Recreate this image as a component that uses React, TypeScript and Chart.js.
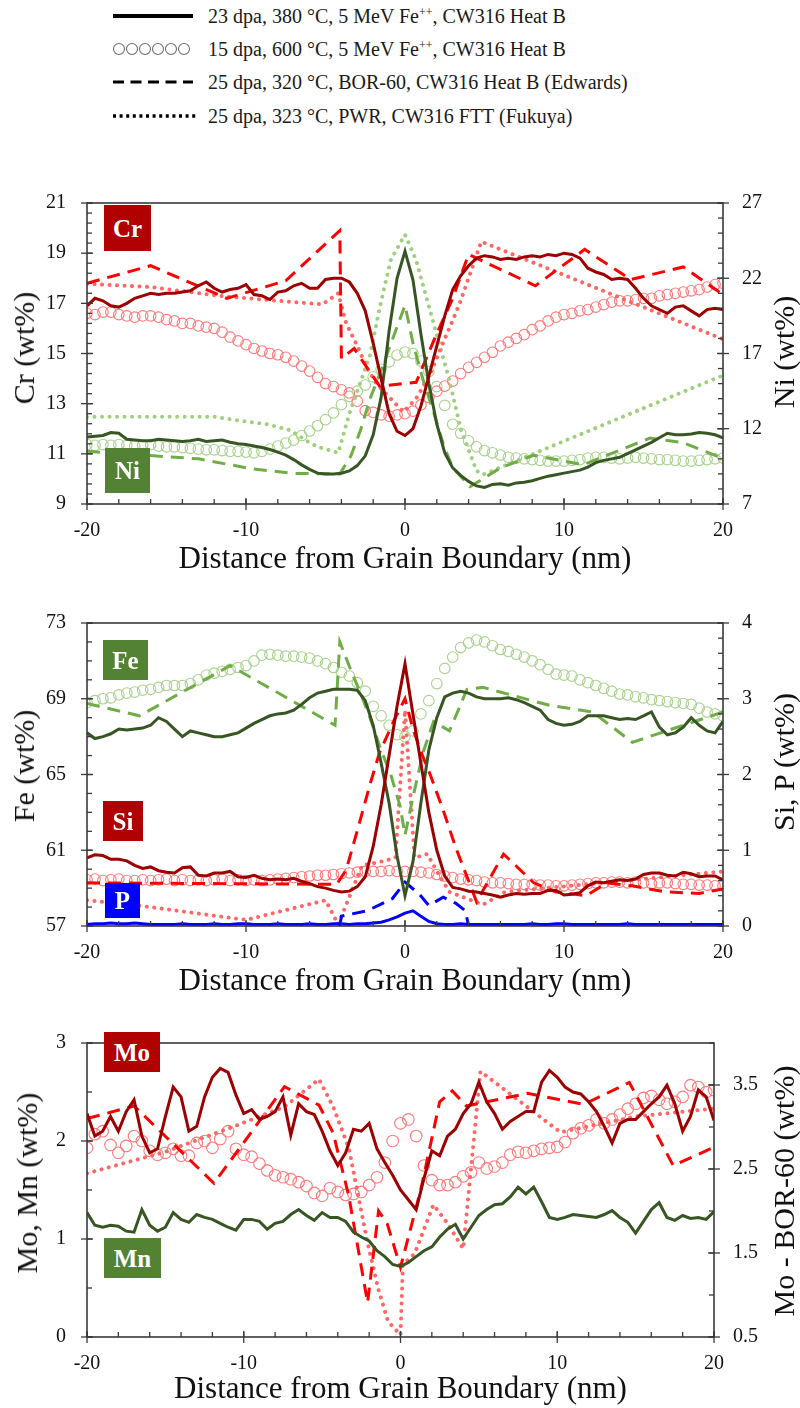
import React, { useEffect, useRef } from "react";
import { Chart, registerables } from "chart.js";
Chart.register(...registerables);

const FONT = "'Liberation Serif', 'Times New Roman', Times, serif";

// ---------- shared distance grid (nm) ----------
const DIST = [
  -20, -19.5, -19, -18.5, -18, -17.5, -17, -16.5, -16, -15.5,
  -15, -14.5, -14, -13.5, -13, -12.5, -12, -11.5, -11, -10.5,
  -10, -9.5, -9, -8.5, -8, -7.5, -7, -6.5, -6, -5.5,
  -5, -4.5, -4, -3.5, -3, -2.5, -2, -1.5, -1, -0.5,
  0,
  0.5, 1, 1.5, 2, 2.5, 3, 3.5, 4, 4.5, 5,
  5.5, 6, 6.5, 7, 7.5, 8, 8.5, 9, 9.5, 10,
  10.5, 11, 11.5, 12, 12.5, 13, 13.5, 14, 14.5, 15,
  15.5, 16, 16.5, 17, 17.5, 18, 18.5, 19, 19.5, 20,
];
const X_TICKS = [-20, -10, 0, 10, 20];

// ---------- panel 1 : Cr / Ni ----------
const CR_TICKS = [9, 11, 13, 15, 17, 19, 21];
const NI_TICKS = [7, 12, 17, 22, 27];
const CR_SOLID = [
  16.9, 17.2, 17.1, 16.9, 16.85, 17.0, 17.2, 17.3, 17.4, 17.35,
  17.4, 17.4, 17.45, 17.5, 17.7, 17.85, 17.6, 17.45, 17.55, 17.6,
  17.75, 17.35, 17.3, 17.15, 17.45, 17.5, 17.7, 17.8, 17.6, 17.6,
  17.95, 18.0, 18.0, 17.85, 17.4, 16.7, 15.4, 14.0, 12.6, 11.9,
  11.73,
  12.0, 12.9, 14.1, 15.3, 16.5, 17.55, 18.1, 18.5, 18.8, 18.9,
  18.85, 18.75, 18.8, 18.75, 18.85, 18.9, 18.85, 18.95, 18.9, 19.0,
  18.95, 18.8, 18.4, 18.25, 18.15, 17.95, 18.0, 17.95, 17.6, 17.2,
  16.9, 16.75, 16.6, 16.85, 16.9, 16.7, 16.5, 16.75, 16.8, 16.75,
];
const CR_CIRC = [
  16.6, 16.55, 16.65, 16.65, 16.55, 16.5, 16.45, 16.5, 16.5, 16.45,
  16.35, 16.3, 16.2, 16.2, 16.1, 16.05, 16.0, 15.85, 15.65, 15.5,
  15.35, 15.2, 15.1, 15.0, 14.95, 14.85, 14.7, 14.5, 14.3, 14.05,
  13.8, 13.68, 13.55, 13.43, 13.1, 12.72, 12.65, 12.55, 12.5, 12.55,
  12.6,
  12.7, 12.95, 13.25, 13.5, 13.7, 13.9, 14.2, 14.45, 14.65, 14.85,
  15.05, 15.3, 15.45, 15.6, 15.75, 15.95, 16.1, 16.3, 16.45, 16.55,
  16.6, 16.7, 16.75, 16.85, 16.95, 17.05, 17.1, 17.1, 17.15, 17.2,
  17.2, 17.3, 17.35, 17.4, 17.45, 17.5, 17.55, 17.65, 17.75, 17.8,
];
const CR_DASH_X = [-20, -16, -11.2, -7.5, -4.1, -4.0, -3.2, -1.6, 0.7, 2.0, 3.0, 4.0, 8.2, 11.3, 14.2, 17.5, 20];
const CR_DASH_Y = [17.8, 18.5, 17.2, 17.9, 19.9, 14.8, 15.2, 13.7, 13.85, 15.8, 17.2, 18.95, 17.7, 19.15, 17.95, 18.45, 17.35];
const CR_DOT_X = [-20, -16, -11.7, -8, -5.2, -4.2, -3.7, -3.0, -2.4, -1.8, -0.9, -0.1, 0.7, 1.6, 2.4, 3.0, 3.5, 4.8, 20];
const CR_DOT_Y = [17.78, 17.65, 17.3, 17.1, 16.96, 17.4, 16.2, 15.3, 14.43, 13.8, 13.2, 12.67, 13.2, 14.2, 15.44, 16.32, 17.1, 19.46, 15.57];

const NI_SOLID = [
  11.45, 11.5, 11.55, 11.75, 11.7, 11.3, 11.25, 11.2, 11.2, 11.3,
  11.25, 11.2, 11.15, 11.2, 11.3, 11.15, 11.2, 11.25, 11.1, 11.0,
  10.95, 10.85, 10.75, 10.62, 10.45, 10.25, 9.95, 9.6, 9.3, 9.05,
  9.0, 9.0, 9.05, 9.2, 9.55, 10.2, 11.6, 14.1, 18.5, 22.0,
  23.8,
  21.9, 18.3, 15.0, 12.3, 10.4, 9.4, 8.9, 8.5, 8.2, 8.1,
  8.3, 8.35, 8.25, 8.4, 8.45, 8.55, 8.7, 8.85, 8.95, 9.05,
  9.15, 9.25, 9.45, 9.75, 9.9, 10.0, 10.1, 10.35, 10.6, 10.85,
  11.1, 11.4, 11.7, 11.6, 11.6, 11.65, 11.75, 11.7, 11.6, 11.4,
];
const NI_CIRC = [
  10.95, 10.9, 10.95, 10.9, 10.95, 10.9, 10.85, 10.9, 10.95, 10.85,
  10.8, 10.8, 10.75, 10.7, 10.65, 10.6, 10.6, 10.55, 10.5, 10.5,
  10.45, 10.4, 10.5, 10.65, 10.85, 11.05, 11.25, 11.55, 11.85, 12.2,
  12.6, 13.05, 13.6, 14.15, 14.5, 14.9, 15.45, 15.95, 16.45, 16.9,
  17.1,
  17.0, 16.5, 15.8, 14.8, 13.55, 12.3, 11.7, 11.2, 10.8, 10.55,
  10.4, 10.25, 10.1, 10.05, 10.0, 9.95, 9.9, 9.85, 9.85, 9.85,
  9.9, 9.95, 10.05, 10.1, 10.1, 10.05, 10.0, 10.05, 10.1, 10.05,
  10.0, 9.95, 9.95, 9.9, 9.85, 9.85, 9.9, 9.95, 10.0, 10.05,
];
const NI_DASH_X = [-20, -13, -9.7, -7, -4.1, -3.4, -2.8, -2.2, -1.6, 0, 0.5, 1.15, 1.8, 2.4, 3.0, 4.1, 6.0, 8.1, 11.2, 15.4, 17.5, 20];
const NI_DASH_Y = [10.5, 10.0, 9.35, 9.03, 9.0, 10.2, 11.9, 14.0, 15.6, 20.2, 17.7, 15.2, 13.1, 11.0, 9.4, 8.15, 9.4, 10.24, 9.6, 11.38, 11.07, 10.03];
const NI_DOT_X = [-20, -12, -10.8, -8.7, -7.2, -6.2, -5.5, -4.2, -3.5, -2.2, -1.6, -0.9, 0, 0.7, 1.8, 2.8, 3.5, 4.5, 4.9, 20];
const NI_DOT_Y = [12.8, 12.8, 12.6, 12.3, 11.9, 11.2, 10.8, 10.4, 13.0, 16.9, 20.0, 23.2, 24.9, 23.2, 19.0, 15.2, 12.0, 9.2, 8.95, 15.55];

// ---------- panel 2 : Fe / Si, P ----------
const FE_TICKS = [57, 61, 65, 69, 73];
const SIP_TICKS = [0, 1, 2, 3, 4];
const FE_SOLID = [
  67.2, 66.9, 67.0, 67.15, 67.4, 67.35, 67.4, 67.45, 67.6, 68.0,
  67.8, 67.4, 67.0, 67.3, 67.2, 67.1, 67.0, 67.0, 67.1, 67.2,
  67.45, 67.7, 67.9, 68.1, 68.2, 68.25, 68.4, 68.7, 69.05, 69.3,
  69.4, 69.5, 69.5, 69.5, 69.45, 68.9, 67.6, 65.6, 63.5, 60.7,
  58.6,
  60.4, 63.5, 66.3, 68.0, 69.1, 69.3, 69.4, 69.3, 69.1, 69.0,
  69.0, 69.0, 69.05, 68.95, 68.8, 68.6, 68.4, 67.9, 67.7, 67.6,
  67.65, 67.8, 68.1, 68.1, 68.1, 68.0, 67.9, 67.95, 67.9, 68.1,
  68.3, 67.5, 67.1, 67.2, 67.5, 68.0, 67.6, 67.3, 67.2, 67.8,
];
const FE_CIRC = [
  68.8, 68.9, 69.0, 69.05, 69.2, 69.3, 69.35, 69.45, 69.5, 69.6,
  69.7, 69.7, 69.7, 69.8, 70.0, 70.25, 70.35, 70.45, 70.55, 70.65,
  70.75, 71.0, 71.3, 71.35, 71.3, 71.25, 71.25, 71.2, 71.15, 71.0,
  70.85, 70.65, 70.4, 70.2, 69.85, 69.4, 68.6, 68.1, 67.6, 67.1,
  67.0,
  67.3, 68.2, 68.9, 69.8, 70.6, 71.2, 71.7, 71.95, 72.1, 72.0,
  71.8, 71.6, 71.5, 71.35, 71.2, 71.0, 70.8, 70.55, 70.3, 70.25,
  70.2, 70.0, 69.85, 69.7, 69.55, 69.4, 69.25, 69.2, 69.1, 69.05,
  68.95, 68.9, 68.85, 68.8, 68.75, 68.7, 68.5, 68.3, 68.2, 68.1,
];
const FE_DASH_X = [-20, -16.7, -11, -4.4, -4.1, -3.4, -2.8, -2.2, -1.6, -0.9, -0.3, 0, 0.5, 1.15, 1.8, 2.8, 3.9, 4.9, 9.1, 11.8, 14.3, 20];
const FE_DASH_Y = [68.75, 68.1, 70.75, 67.6, 72.0, 70.5, 69.3, 68.0, 66.5, 65.0, 63.3, 61.8, 63.8, 66.2, 67.8, 67.3, 69.5, 69.6, 68.65, 68.3, 66.7, 68.3];

const SI_SOLID = [
  0.9, 0.94, 0.93, 0.88, 0.88, 0.86, 0.8, 0.76, 0.78, 0.73,
  0.71, 0.7, 0.77, 0.78, 0.67, 0.66, 0.7, 0.7, 0.72, 0.65,
  0.64, 0.67, 0.63, 0.61, 0.62, 0.61, 0.63, 0.59, 0.56, 0.52,
  0.5, 0.47, 0.45, 0.46, 0.52, 0.65, 1.05, 1.6, 2.25, 2.9,
  3.46,
  2.8, 2.15, 1.5, 1.0, 0.66, 0.51, 0.49, 0.46, 0.45, 0.43,
  0.41, 0.38, 0.41, 0.43, 0.42, 0.43, 0.43, 0.47, 0.47, 0.41,
  0.42, 0.44, 0.53, 0.58, 0.57, 0.59, 0.61, 0.6, 0.62, 0.68,
  0.7, 0.7, 0.67, 0.66, 0.71, 0.69, 0.65, 0.66, 0.66, 0.61,
];
const SI_CIRC = [
  0.61, 0.62, 0.6, 0.61, 0.62, 0.6, 0.6, 0.61, 0.6, 0.61,
  0.62, 0.6, 0.61, 0.6, 0.61, 0.6, 0.61, 0.62, 0.6, 0.61,
  0.6, 0.61, 0.6, 0.61, 0.62, 0.63, 0.64, 0.65, 0.66, 0.67,
  0.67, 0.68, 0.69, 0.7, 0.71, 0.72, 0.72, 0.72, 0.73, 0.72,
  0.72,
  0.72, 0.71, 0.7, 0.68, 0.66, 0.64, 0.62, 0.61, 0.6, 0.58,
  0.57, 0.57, 0.56, 0.55, 0.55, 0.55, 0.54, 0.54, 0.53, 0.53,
  0.54, 0.55, 0.56, 0.57, 0.57, 0.58, 0.58, 0.57, 0.58, 0.57,
  0.56, 0.57, 0.57, 0.56, 0.55, 0.55, 0.54, 0.54, 0.53, 0.53,
];
const SI_DASH_X = [-20, -4.3, -3.7, -2.8, -2.2, -1.6, -0.7, 0, 0.5, 1.0, 1.6, 2.4, 3.2, 3.9, 4.5, 6.2, 8.1, 9.5, 11.4, 12.7, 14.3, 16.4, 18.5, 20];
const SI_DASH_Y = [0.57, 0.55, 0.74, 1.41, 1.87, 2.29, 2.71, 3.0, 2.6, 2.3, 1.99, 1.53, 1.03, 0.65, 0.32, 0.95, 0.57, 0.45, 0.4, 0.57, 0.53, 0.45, 0.43, 0.49];
const SI_DOT_X = [-20, -16.4, -10, -5, -4.2, -2.7, -1.5, -0.6, 0, 0.6, 1.4, 2.2, 2.8, 4.9, 6.3, 20];
const SI_DOT_Y = [0.34, 0.26, 0.08, 0.34, 0.02, 0.8, 0.85, 0.9, 2.85, 0.9, 0.95, 0.65, 0.45, 0.28, 0.45, 0.72];

const P_SOLID = [
  0.02, 0.03, 0.03, 0.04, 0.03, 0.03, 0.04, 0.03, 0.02, 0.02,
  0.02, 0.02, 0.03, 0.02, 0.02, 0.02, 0.03, 0.02, 0.02, 0.03,
  0.03, 0.02, 0.02, 0.02, 0.03, 0.02, 0.02, 0.02, 0.03, 0.02,
  0.02, 0.03, 0.03, 0.02, 0.03, 0.03, 0.04, 0.05, 0.08, 0.12,
  0.17,
  0.2, 0.13, 0.06, 0.03, 0.02, 0.02, 0.03, 0.02, 0.02, 0.02,
  0.02, 0.02, 0.02, 0.02, 0.02, 0.03, 0.02, 0.02, 0.03, 0.03,
  0.02, 0.02, 0.02, 0.02, 0.02, 0.02, 0.02, 0.03, 0.02, 0.02,
  0.02, 0.02, 0.02, 0.02, 0.02, 0.02, 0.02, 0.02, 0.02, 0.02,
];
const P_DASH_X = [-4.1, -4.0, -2.4, -1.6, -0.8, 0, 0.9, 1.5, 2.4, 3.2, 3.8, 4.0];
const P_DASH_Y = [0.0, 0.13, 0.2, 0.28, 0.36, 0.58, 0.42, 0.27, 0.38, 0.3, 0.2, 0.0];

// ---------- panel 3 : Mo / Mn ----------
const MOMN_TICKS = [0, 1, 2, 3];
const MOB_TICKS = [0.5, 1.5, 2.5, 3.5];
const MO_SOLID = [
  2.28, 2.05, 2.1, 2.25, 2.1, 2.3, 2.42, 2.05, 1.88, 1.92,
  2.25, 2.55, 2.45, 2.1, 2.15, 2.45, 2.65, 2.74, 2.7, 2.47,
  2.28, 2.32, 2.22, 2.25, 2.3, 2.45, 2.06, 2.38, 2.3, 2.27,
  2.1, 1.9, 1.75, 1.88, 2.12, 2.1, 2.18, 1.92, 1.78, 1.65,
  1.5,
  1.4, 1.3, 1.62, 1.9, 1.85, 2.05, 2.12, 2.28, 2.38, 2.6,
  2.4, 2.28, 2.12, 2.2, 2.25, 2.3, 2.3, 2.6, 2.72, 2.65,
  2.55, 2.5, 2.48, 2.4, 2.3, 2.15, 1.98, 2.18, 2.22, 2.22,
  2.3, 2.38, 2.45, 2.57, 2.38, 2.1, 2.25, 2.52, 2.45, 2.21,
];
const MN_SOLID = [
  1.27, 1.14, 1.12, 1.14, 1.13, 1.08, 1.07, 1.3, 1.14, 1.08,
  1.12, 1.27, 1.2, 1.17, 1.25, 1.22, 1.2, 1.16, 1.12, 1.09,
  1.2, 1.2, 1.18, 1.1, 1.16, 1.18, 1.25, 1.3, 1.24, 1.19,
  1.27, 1.22, 1.22, 1.18, 1.07, 1.02, 0.98, 0.88, 0.82, 0.74,
  0.72,
  0.76, 0.82, 0.88, 0.92, 1.02, 1.1, 1.15, 1.0, 1.12, 1.24,
  1.3, 1.35, 1.36, 1.43, 1.53, 1.46, 1.53, 1.38, 1.22, 1.2,
  1.22, 1.25, 1.24, 1.23, 1.22, 1.25, 1.29, 1.22, 1.17, 1.06,
  1.18, 1.3, 1.37, 1.22, 1.19, 1.24, 1.21, 1.22, 1.2, 1.28,
];
const MO_CIRC = [
  1.93, 2.07, 2.1, 1.96, 1.88, 1.95, 2.05, 2.0, 1.9, 1.86,
  1.88, 1.92, 1.85, 1.85, 1.98, 2.0, 1.93, 2.02, 2.1, 1.92,
  1.86, 1.84, 1.77, 1.7, 1.65, 1.63, 1.61, 1.58, 1.54, 1.47,
  1.44, 1.52, 1.48, 1.45, 1.46, 1.48, 1.55, 1.63, 1.78, 2.0,
  2.18,
  2.22, 2.05, 1.75, 1.6, 1.55, 1.55, 1.58, 1.64, 1.68, 1.78,
  1.72, 1.74, 1.78, 1.86, 1.89, 1.88, 1.9, 1.92, 1.93, 1.94,
  1.99, 2.08, 2.13, 2.16, 2.22, 2.18, 2.22, 2.27, 2.33, 2.38,
  2.44, 2.46, 2.42, 2.38, 2.4, 2.45, 2.57, 2.55, 2.5, 2.52,
];
const MO_DASH_X = [-20, -17, -11.9, -7.4, -5.2, -4.3, -3.3, -2.1, -1.4, -0.85, 0, 1.3, 2.5, 3.3, 4.2, 8.1, 11.7, 14.6, 17.4, 20];
const MO_DASH_Y = [3.1, 3.25, 2.33, 3.48, 3.26, 2.93, 2.18, 0.91, 2.0, 1.85, 1.33, 2.26, 3.3, 3.43, 3.25, 3.4, 3.27, 3.53, 2.54, 2.76];
const MO_DOT_X = [-20, -15, -10.6, -7.4, -5.2, -4.3, -3.3, -2.1, -1.4, -0.8, 0, 0.15, 0.9, 2.1, 3.0, 4.0, 5.1, 10.2, 15, 20];
const MO_DOT_Y = [1.67, 1.89, 2.15, 2.35, 2.63, 2.35, 1.93, 0.96, 0.48, 0.16, 0.02, 0.74, 0.85, 1.35, 1.16, 0.9, 2.71, 2.09, 2.25, 2.33];

// ---------- colours ----------
const DARK_RED = "#9c0000";
const RED = "#ff0000";
const PINK_DOT = "#ff6666";
const PINK_CIRC = "#ff7a7a";
const DARK_GREEN = "#375623";
const GREEN = "#70ad47";
const GREEN_DOT = "#9fd07f";
const GREEN_CIRC = "#a9d18e";
const BLUE = "#0000ff";
const BOX_RED = "#b00000";
const BOX_GREEN = "#548235";

const X_TITLE = "Distance from Grain Boundary (nm)";

// ---------- helpers ----------
const zip = (xs: number[], ys: number[]) => xs.map((x, i) => ({ x, y: ys[i] }));

const solid = (color: string, ys: number[], axis: string, w = 3) => ({
  data: zip(DIST, ys), borderColor: color, borderWidth: w, pointRadius: 0, tension: 0, fill: false, yAxisID: axis,
});
const dashed = (color: string, xs: number[], ys: number[], axis: string) => ({
  data: zip(xs, ys), borderColor: color, borderWidth: 3, borderDash: [13, 8], pointRadius: 0, tension: 0, fill: false, yAxisID: axis,
});
const dotted = (color: string, xs: number[], ys: number[], axis: string) => ({
  data: zip(xs, ys), borderColor: color, borderWidth: 4, borderDash: [0.01, 7.5], borderCapStyle: "round", pointRadius: 0, tension: 0, fill: false, yAxisID: axis,
});
const circles = (color: string, ys: number[], axis: string, r = 5.3) => ({
  data: zip(DIST, ys), showLine: false, pointRadius: r, pointStyle: "circle", pointBorderColor: color,
  pointBackgroundColor: "rgba(0,0,0,0)", pointBorderWidth: 1.1, borderColor: color, yAxisID: axis,
});

const frameTicks = {
  id: "frameTicks",
  afterDatasetsDraw(chart: any, _args: any, opts: any) {
    const { ctx, chartArea: a } = chart;
    ctx.save();
    ctx.strokeStyle = "#3a3a3a";
    ctx.lineWidth = 1.6;
    ctx.strokeRect(a.left, a.top, a.right - a.left, a.bottom - a.top);
    ctx.lineWidth = 1.3;
    for (const ax of opts.axes) {
      const s = chart.scales[ax.id];
      const draw = (v: number, inLen: number, outLen: number) => {
        const p = s.getPixelForValue(v);
        ctx.beginPath();
        if (ax.side === "bottom") { ctx.moveTo(p, a.bottom + outLen); ctx.lineTo(p, a.bottom - inLen); }
        else if (ax.side === "left") { ctx.moveTo(a.left - outLen, p); ctx.lineTo(a.left + inLen, p); }
        else { ctx.moveTo(a.right + outLen, p); ctx.lineTo(a.right - inLen, p); }
        ctx.stroke();
      };
      const n = Math.round((s.max - s.min) / ax.minor);
      for (let i = 0; i <= n; i++) draw(s.min + i * ax.minor, 5, 0);
      for (const t of s.ticks) draw(t.value, 6, 6);
    }
    ctx.restore();
  },
};

const tickFont = { family: FONT, size: 20 };

const yScale = (min: number, max: number, ticks: number[], position: string, width: number, pad: number) => ({
  type: "linear", position, min, max,
  afterBuildTicks: (s: any) => { s.ticks = ticks.map((v) => ({ value: v })); },
  afterFit: (s: any) => { s.width = width; },
  grid: { display: false, drawTicks: false },
  border: { display: false },
  ticks: { font: tickFont, color: "#111", padding: pad, callback: (v: any) => String(v) },
});

type PanelProps = {
  top: number; height: number; padTop: number; xHeight: number; rightWidth: number;
  build: () => any[]; y: any; y2: any; minors: [number, number, number];
};

function Panel({ top, height, padTop, xHeight, rightWidth, build, y, y2, minors }: PanelProps) {
  const ref = useRef<HTMLCanvasElement>(null);
  useEffect(() => {
    const chart = new Chart(ref.current as HTMLCanvasElement, {
      type: "line",
      data: { datasets: build() },
      options: {
        animation: false,
        responsive: false,
        maintainAspectRatio: false,
        layout: { padding: { top: padTop, left: 0, right: 0, bottom: 0 } },
        plugins: {
          legend: { display: false },
          tooltip: { enabled: false },
          frameTicks: {
            axes: [
              { id: "x", side: "bottom", minor: minors[0] },
              { id: "y", side: "left", minor: minors[1] },
              { id: "y2", side: "right", minor: minors[2] },
            ],
          },
        },
        scales: {
          x: {
            type: "linear", min: -20, max: 20,
            afterBuildTicks: (s: any) => { s.ticks = X_TICKS.map((v) => ({ value: v })); },
            afterFit: (s: any) => { s.height = xHeight; },
            grid: { display: false, drawTicks: false },
            border: { display: false },
            ticks: { font: tickFont, color: "#111", padding: 15, maxRotation: 0, autoSkip: false, callback: (v: any) => String(v) },
            title: { display: true, text: X_TITLE, font: { family: FONT, size: 31 }, color: "#111", padding: { top: 0, bottom: 0 } },
          },
          y: yScale(y.min, y.max, y.ticks, "left", 87, 21),
          y2: yScale(y2.min, y2.max, y2.ticks, "right", rightWidth, 19),
        },
      } as any,
      plugins: [frameTicks as any],
    });
    return () => chart.destroy();
  }, []);
  return (
    <canvas ref={ref} width={800} height={height}
      style={{ position: "absolute", left: 0, top, width: 800, height, display: "block" }} />
  );
}

function YTitle({ text, cx, cy }: { text: string; cx: number; cy: number }) {
  return (
    <div style={{
      position: "absolute", left: cx, top: cy, transform: "translate(-50%, -50%) rotate(-90deg)",
      whiteSpace: "nowrap", fontFamily: FONT, fontSize: 30, color: "#111", lineHeight: "32px",
    }}>{text}</div>
  );
}

function Tag({ text, x, y, w, h, bg }: { text: string; x: number; y: number; w: number; h: number; bg: string }) {
  return (
    <div style={{
      position: "absolute", left: x, top: y, width: w, height: h, background: bg, color: "#fff",
      fontFamily: FONT, fontWeight: "bold", fontSize: 25, display: "flex", alignItems: "center",
      justifyContent: "center", lineHeight: 1,
    }}>{text}</div>
  );
}

const LEGEND_ROWS = [
  { kind: "solid", pre: "23 dpa, 380 °C, 5 MeV Fe", sup: "++", post: ", CW316 Heat B" },
  { kind: "circle", pre: "15 dpa, 600 °C, 5 MeV Fe", sup: "++", post: ", CW316 Heat B" },
  { kind: "dash", pre: "25 dpa, 320 °C, BOR-60, CW316 Heat B (Edwards)", sup: "", post: "" },
  { kind: "dot", pre: "25 dpa, 323 °C, PWR, CW316 FTT (Fukuya)", sup: "", post: "" },
];
const LEGEND_Y = [16, 49, 82, 116];

function LegendSample({ kind }: { kind: string }) {
  if (kind === "circle") {
    return (
      <svg width={90} height={20}>
        {[9, 22, 35, 48, 61, 74].map((cx) => (
          <circle key={cx} cx={cx} cy={10} r={5.5} fill="none" stroke="#6e6e6e" strokeWidth={1.1} />
        ))}
      </svg>
    );
  }
  const dash = kind === "dash" ? "11 6.5" : kind === "dot" ? "3 3.6" : undefined;
  const w = kind === "solid" ? 4 : kind === "dot" ? 3.5 : 3;
  return (
    <svg width={90} height={20}>
      <line x1={3} y1={10} x2={kind === "dot" ? 86 : 83} y2={10} stroke="#000" strokeWidth={w} strokeDasharray={dash} />
    </svg>
  );
}

export default function App() {
  const p1 = () => [
    solid(DARK_RED, CR_SOLID, "y"),
    solid(DARK_GREEN, NI_SOLID, "y2"),
    dashed(RED, CR_DASH_X, CR_DASH_Y, "y"),
    dashed(GREEN, NI_DASH_X, NI_DASH_Y, "y2"),
    dotted(PINK_DOT, CR_DOT_X, CR_DOT_Y, "y"),
    dotted(GREEN_DOT, NI_DOT_X, NI_DOT_Y, "y2"),
    circles(PINK_CIRC, CR_CIRC, "y"),
    circles(GREEN_CIRC, NI_CIRC, "y2"),
  ];
  const p2 = () => [
    solid(DARK_RED, SI_SOLID, "y2"),
    solid(DARK_GREEN, FE_SOLID, "y"),
    solid(BLUE, P_SOLID, "y2"),
    dashed(RED, SI_DASH_X, SI_DASH_Y, "y2"),
    dashed(GREEN, FE_DASH_X, FE_DASH_Y, "y"),
    dashed(BLUE, P_DASH_X, P_DASH_Y, "y2"),
    dotted(PINK_DOT, SI_DOT_X, SI_DOT_Y, "y2"),
    circles(PINK_CIRC, SI_CIRC, "y2"),
    circles(GREEN_CIRC, FE_CIRC, "y"),
  ];
  const p3 = () => [
    solid(DARK_RED, MO_SOLID, "y"),
    solid(DARK_GREEN, MN_SOLID, "y"),
    dashed(RED, MO_DASH_X, MO_DASH_Y, "y2"),
    dotted(PINK_DOT, MO_DOT_X, MO_DOT_Y, "y"),
    circles(PINK_CIRC, MO_CIRC, "y", 5.8),
  ];

  return (
    <div style={{ position: "absolute", left: 0, top: 0, width: 800, height: 1408, overflow: "hidden", background: "#fff" }}>
      {LEGEND_ROWS.map((r, i) => (
        <React.Fragment key={i}>
          <div style={{ position: "absolute", left: 110, top: LEGEND_Y[i] - 10, width: 90, height: 20 }}>
            <LegendSample kind={r.kind} />
          </div>
          <div style={{
            position: "absolute", left: 208, top: LEGEND_Y[i] - 12, height: 24, lineHeight: "24px",
            fontFamily: FONT, fontSize: 20, color: "#1a1a1a", whiteSpace: "nowrap",
          }}>
            {r.pre}{r.sup ? <sup style={{ fontSize: 12, verticalAlign: "7px", lineHeight: 0 }}>{r.sup}</sup> : null}{r.post}
          </div>
        </React.Fragment>
      ))}

      <Panel top={170} height={408} padTop={16} xHeight={74} rightWidth={77} build={p1}
        y={{ min: 9, max: 21, ticks: CR_TICKS }} y2={{ min: 7, max: 27, ticks: NI_TICKS }} minors={[2, 0.4, 1]} />
      <Panel top={590} height={410} padTop={17} xHeight={74} rightWidth={77} build={p2}
        y={{ min: 57, max: 73, ticks: FE_TICKS }} y2={{ min: 0, max: 4, ticks: SIP_TICKS }} minors={[2, 1, 0.2]} />
      <Panel top={1010} height={398} padTop={15} xHeight={71} rightWidth={86} build={p3}
        y={{ min: 0, max: 3, ticks: MOMN_TICKS }} y2={{ min: 0.5, max: 4, ticks: MOB_TICKS }} minors={[2, 0.5, 0.5]} />

      <YTitle text="Cr (wt%)" cx={24} cy={348} />
      <YTitle text="Ni (wt%)" cx={784} cy={352} />
      <YTitle text="Fe (wt%)" cx={24} cy={766} />
      <YTitle text="Si, P (wt%)" cx={784} cy={762} />
      <YTitle text="Mo, Mn (wt%)" cx={27} cy={1183} />
      <YTitle text="Mo - BOR-60 (wt%)" cx={784} cy={1191} />

      <Tag text="Cr" x={104} y={205} w={47} h={46} bg={BOX_RED} />
      <Tag text="Ni" x={105} y={448} w={45} h={45} bg={BOX_GREEN} />
      <Tag text="Fe" x={103} y={640} w={45} h={40} bg={BOX_GREEN} />
      <Tag text="Si" x={103} y={801} w={40} h={40} bg={BOX_RED} />
      <Tag text="P" x={105} y={883} w={35} h={35} bg={BLUE} />
      <Tag text="Mo" x={104} y={1032} w={56} h={40} bg={BOX_RED} />
      <Tag text="Mn" x={104} y={1238} w={57} h={40} bg={BOX_GREEN} />
    </div>
  );
}
